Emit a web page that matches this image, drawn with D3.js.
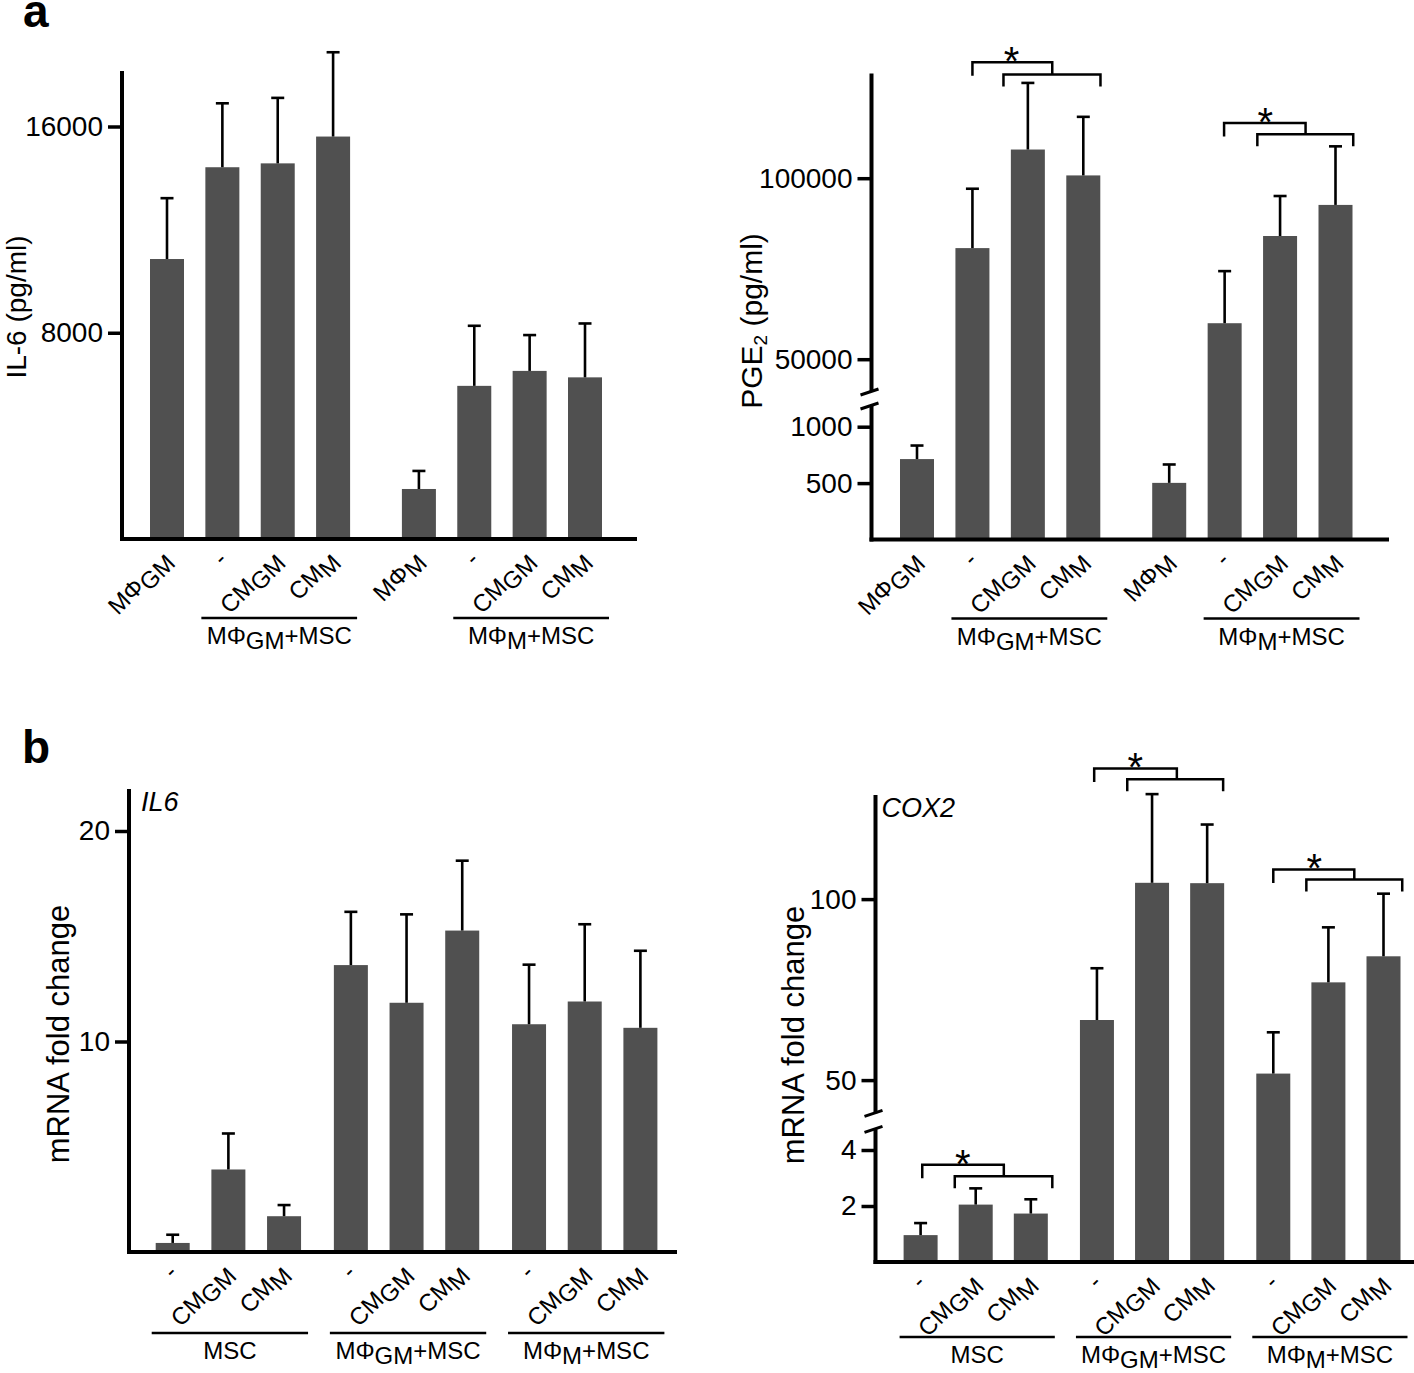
<!DOCTYPE html>
<html><head><meta charset="utf-8">
<script src="https://cdn.jsdelivr.net/npm/d3@7"></script>
<style>
body{margin:0;background:#fff}
svg{display:block}
text{font-family:"Liberation Sans",Arial,Helvetica,sans-serif;fill:#000}
</style>
</head><body>
<svg id="chart" width="1414" height="1373"></svg>
<script>
// ---------------- DATA ----------------
const proteinLabels = [["MΦ","GM"],["-",""],["CM","GM"],["CM","M"],["MΦ","M"],["-",""],["CM","GM"],["CM","M"]];
const proteinGroups = [
  {from:1, to:3, label:["MΦ","GM","+MSC"]},
  {from:5, to:7, label:["MΦ","M","+MSC"]}
];
const il6Protein    = [10860, 14420, 14570, 15610, 1940, 5940, 6520, 6270];
const il6ProteinErr = [2360, 2480, 2540, 3270, 700, 2330, 1390, 2090];
const il6ProteinTicks = [8000, 16000];

const pge2    = [713, 80690, 107920, 100770, 502, 59940, 84030, 92620];
const pge2Err = [120, 16400, 18400, 16180, 163, 14390, 11050, 16180];
const pge2Ticks = [500, 1000, 50000, 100000];
const pge2Sig = [
  {outer:[1.0, 2.44], inner:[1.56, 3.31], yOuter:132000, yInner:128660},
  {outer:[5.54, 7.01], inner:[6.14, 7.87], yOuter:115266, yInner:112145}
];

const mrnaLabels = [["-",""],["CM","GM"],["CM","M"],["-",""],["CM","GM"],["CM","M"],["-",""],["CM","GM"],["CM","M"]];
const mrnaGroups = [
  {from:0, to:2, label:["MSC","",""]},
  {from:3, to:5, label:["MΦ","GM","+MSC"]},
  {from:6, to:8, label:["MΦ","M","+MSC"]}
];
const il6Mrna    = [0.43, 3.92, 1.70, 13.63, 11.84, 15.27, 10.82, 11.90, 10.65];
const il6MrnaErr = [0.39, 1.71, 0.53, 2.53, 4.20, 3.32, 2.83, 3.67, 3.66];
const il6MrnaTicks = [10, 20];

const cox2Mrna    = [0.96, 2.05, 1.73, 66.6, 104.5, 104.4, 51.8, 77.0, 84.2];
const cox2MrnaErr = [0.43, 0.58, 0.51, 14.3, 24.5, 16.2, 11.4, 15.2, 17.3];
const cox2Ticks = [2, 4, 50, 100];
const cox2Sig = [
  {outer:[0.03, 1.51], inner:[0.62, 2.39], yOuter:3.47, yInner:3.06},
  {outer:[3.15, 4.65], inner:[3.75, 5.49], yOuter:136.1, yInner:133.1},
  {outer:[6.4, 7.87], inner:[7.0, 8.74], yOuter:108.2, yInner:105.4}
];

// ---------------- DRAWING ----------------
const svg = d3.select("#chart");
const BAR = "#505050";

function addSubText(sel, parts, subSize, dy){
  sel.append("tspan").text(parts[0]);
  if (parts[1]) sel.append("tspan").attr("dy", dy).attr("font-size", subSize).text(parts[1]);
  if (parts[2]) sel.append("tspan").attr("dy", parts[1] ? -dy : 0).text(parts[2]);
}

function drawPanel(cfg){
  const g = svg.append("g");
  const n = cfg.values.length;
  const slots = d3.range(n).map(i => i + Math.floor(i / cfg.block) * cfg.gap);
  const x = d3.scaleLinear().domain([0, d3.max(slots)]).range([cfg.xFirst, cfg.xLast]);
  const y = d3.scaleLinear().domain(cfg.yDomain).range(cfg.yRange);
  const base = y(0);

  // bars
  g.selectAll("rect.bar").data(cfg.values).join("rect")
    .attr("x", (d,i) => x(slots[i]) - 17)
    .attr("width", 34)
    .attr("y", d => y(d))
    .attr("height", d => base - y(d))
    .attr("fill", BAR);

  // error bars
  const eg = g.append("g").attr("stroke", "#000").attr("stroke-width", 2.6);
  cfg.values.forEach((v,i) => {
    const cx = x(slots[i]), top = y(v + cfg.errors[i]);
    eg.append("line").attr("x1", cx).attr("x2", cx).attr("y1", y(v)).attr("y2", top);
    eg.append("line").attr("x1", cx - 6.5).attr("x2", cx + 6.5).attr("y1", top).attr("y2", top);
  });

  // y axis ticks / labels
  const axis = d3.axisLeft(y).tickValues(cfg.ticks).tickSize(14).tickPadding(5).tickFormat(d3.format("d"));
  const ag = g.append("g").attr("transform", `translate(${cfg.axisX},0)`).call(axis);
  ag.select(".domain").remove();
  ag.selectAll(".tick line").attr("stroke", "#000").attr("stroke-width", 3.5);
  ag.selectAll(".tick text").attr("font-size", 28).attr("fill", "#000")
    .attr("font-family", '"Liberation Sans",Arial,sans-serif');

  // axis lines (with optional break)
  const lg = g.append("g").attr("stroke", "#000").attr("stroke-width", 4).attr("fill", "none");
  if (cfg.breakAt) {
    const yl = y(cfg.breakAt[0]), yh = y(cfg.breakAt[1]);
    const bc = yl - 0.41 * (yl - yh);
    const hg = cfg.breakHalf;
    lg.append("line").attr("x1", cfg.axisX).attr("x2", cfg.axisX).attr("y1", base + 2).attr("y2", bc + hg);
    lg.append("line").attr("x1", cfg.axisX).attr("x2", cfg.axisX).attr("y1", bc - hg).attr("y2", cfg.axisTop);
    [bc - hg, bc + hg].forEach(yy => {
      lg.append("line").attr("stroke-width", 3)
        .attr("x1", cfg.axisX - 11).attr("y1", yy + 3)
        .attr("x2", cfg.axisX + 7).attr("y2", yy - 3);
    });
  } else {
    lg.append("line").attr("x1", cfg.axisX).attr("x2", cfg.axisX).attr("y1", base + 2).attr("y2", cfg.axisTop);
  }
  lg.append("line").attr("x1", cfg.axisX - 2).attr("x2", cfg.axisRight).attr("y1", base).attr("y2", base);

  // x tick labels (rotated)
  cfg.labels.forEach((lab,i) => {
    const t = g.append("text")
      .attr("transform", `translate(${x(slots[i]) + 6},${base + 22}) rotate(-45)`)
      .attr("text-anchor", "end").attr("font-size", 24);
    addSubText(t, lab, 24, 5);
  });

  // group underlines and labels
  cfg.groups.forEach(gr => {
    const x1 = x(slots[gr.from]) - 21, x2 = x(slots[gr.to]) + 24;
    const ly = base + cfg.groupLineOff;
    g.append("line").attr("x1", x1).attr("x2", x2).attr("y1", ly).attr("y2", ly)
      .attr("stroke", "#000").attr("stroke-width", 2.5);
    const t = g.append("text").attr("x", (x1 + x2) / 2).attr("y", ly + 26)
      .attr("text-anchor", "middle").attr("font-size", 24);
    addSubText(t, gr.label, 24, 5);
  });

  // y axis title
  const yt = g.append("text")
    .attr("transform", `translate(${cfg.titleX},${cfg.titleY}) rotate(-90)`)
    .attr("text-anchor", "middle").attr("font-size", cfg.titleSize);
  addSubText(yt, cfg.title, 19, 5);

  // inner gene label
  if (cfg.gene) {
    g.append("text").attr("x", cfg.axisX + cfg.geneDx).attr("y", cfg.axisTop + 22)
      .attr("font-size", 27).attr("font-style", "italic").text(cfg.gene);
  }

  // significance brackets
  if (cfg.sig) {
    const sg = g.append("g").attr("stroke", "#000").attr("stroke-width", 2.5).attr("fill", "none");
    cfg.sig.forEach(s => {
      const yo = y(s.yOuter), yi = y(s.yInner);
      const ox1 = x(s.outer[0]), ox2 = x(s.outer[1]);
      const ix1 = x(s.inner[0]), ix2 = x(s.inner[1]);
      sg.append("path").attr("d", `M${ox1},${yo + 13.5}V${yo}H${ox2}V${yi}`);
      sg.append("path").attr("d", `M${ix1},${yi + 12}V${yi}H${ix2}V${yi + 12}`);
      g.append("text").attr("x", ix1 + 8).attr("y", yo - 10 + 23)
        .attr("text-anchor", "middle").attr("font-size", 40).text("*");
    });
  }
}

// Panel a - IL-6 protein
drawPanel({
  values: il6Protein, errors: il6ProteinErr, labels: proteinLabels, groups: proteinGroups,
  block: 4, gap: 0.55, xFirst: 167, xLast: 585,
  yDomain: [0, 16000], yRange: [539, 126.5], ticks: il6ProteinTicks,
  axisX: 122, axisTop: 71, axisRight: 637, groupLineOff: 79,
  title: ["IL-6 (pg/ml)"], titleX: 26, titleY: 307, titleSize: 28
});

// Panel a - PGE2
drawPanel({
  values: pge2, errors: pge2Err, labels: proteinLabels, groups: proteinGroups,
  block: 4, gap: 0.55, xFirst: 917, xLast: 1335.5,
  yDomain: [0, 1000, 50000, 100000], yRange: [539.5, 426.7, 359.2, 178.2], ticks: pge2Ticks,
  breakAt: [1000, 50000], breakHalf: 7,
  axisX: 871.5, axisTop: 73.5, axisRight: 1389, groupLineOff: 79,
  title: ["PGE","2"," (pg/ml)"], titleX: 762, titleY: 321, titleSize: 30,
  sig: pge2Sig
});

// Panel b - IL6 mRNA
drawPanel({
  values: il6Mrna, errors: il6MrnaErr, labels: mrnaLabels, groups: mrnaGroups,
  block: 3, gap: 0.2, xFirst: 172.7, xLast: 640.4,
  yDomain: [0, 20], yRange: [1252, 831], ticks: il6MrnaTicks,
  axisX: 129, axisTop: 789, axisRight: 677, groupLineOff: 81,
  title: ["mRNA fold change"], titleX: 69, titleY: 1034, titleSize: 31,
  gene: "IL6", geneDx: 12
});

// Panel b - COX2 mRNA
drawPanel({
  values: cox2Mrna, errors: cox2MrnaErr, labels: mrnaLabels, groups: mrnaGroups,
  block: 3, gap: 0.2, xFirst: 920.6, xLast: 1383.5,
  yDomain: [0, 4, 50, 100], yRange: [1262, 1150, 1080.1, 899.1], ticks: cox2Ticks,
  breakAt: [4, 50], breakHalf: 8,
  axisX: 875.5, axisTop: 795, axisRight: 1414, groupLineOff: 75,
  title: ["mRNA fold change"], titleX: 804, titleY: 1035, titleSize: 31,
  gene: "COX2", geneDx: 6,
  sig: cox2Sig
});

// panel letters
svg.append("text").attr("x", 23).attr("y", 27).attr("font-size", 46).attr("font-weight", "bold").text("a");
svg.append("text").attr("x", 22).attr("y", 763).attr("font-size", 46).attr("font-weight", "bold").text("b");
</script>
</body></html>
